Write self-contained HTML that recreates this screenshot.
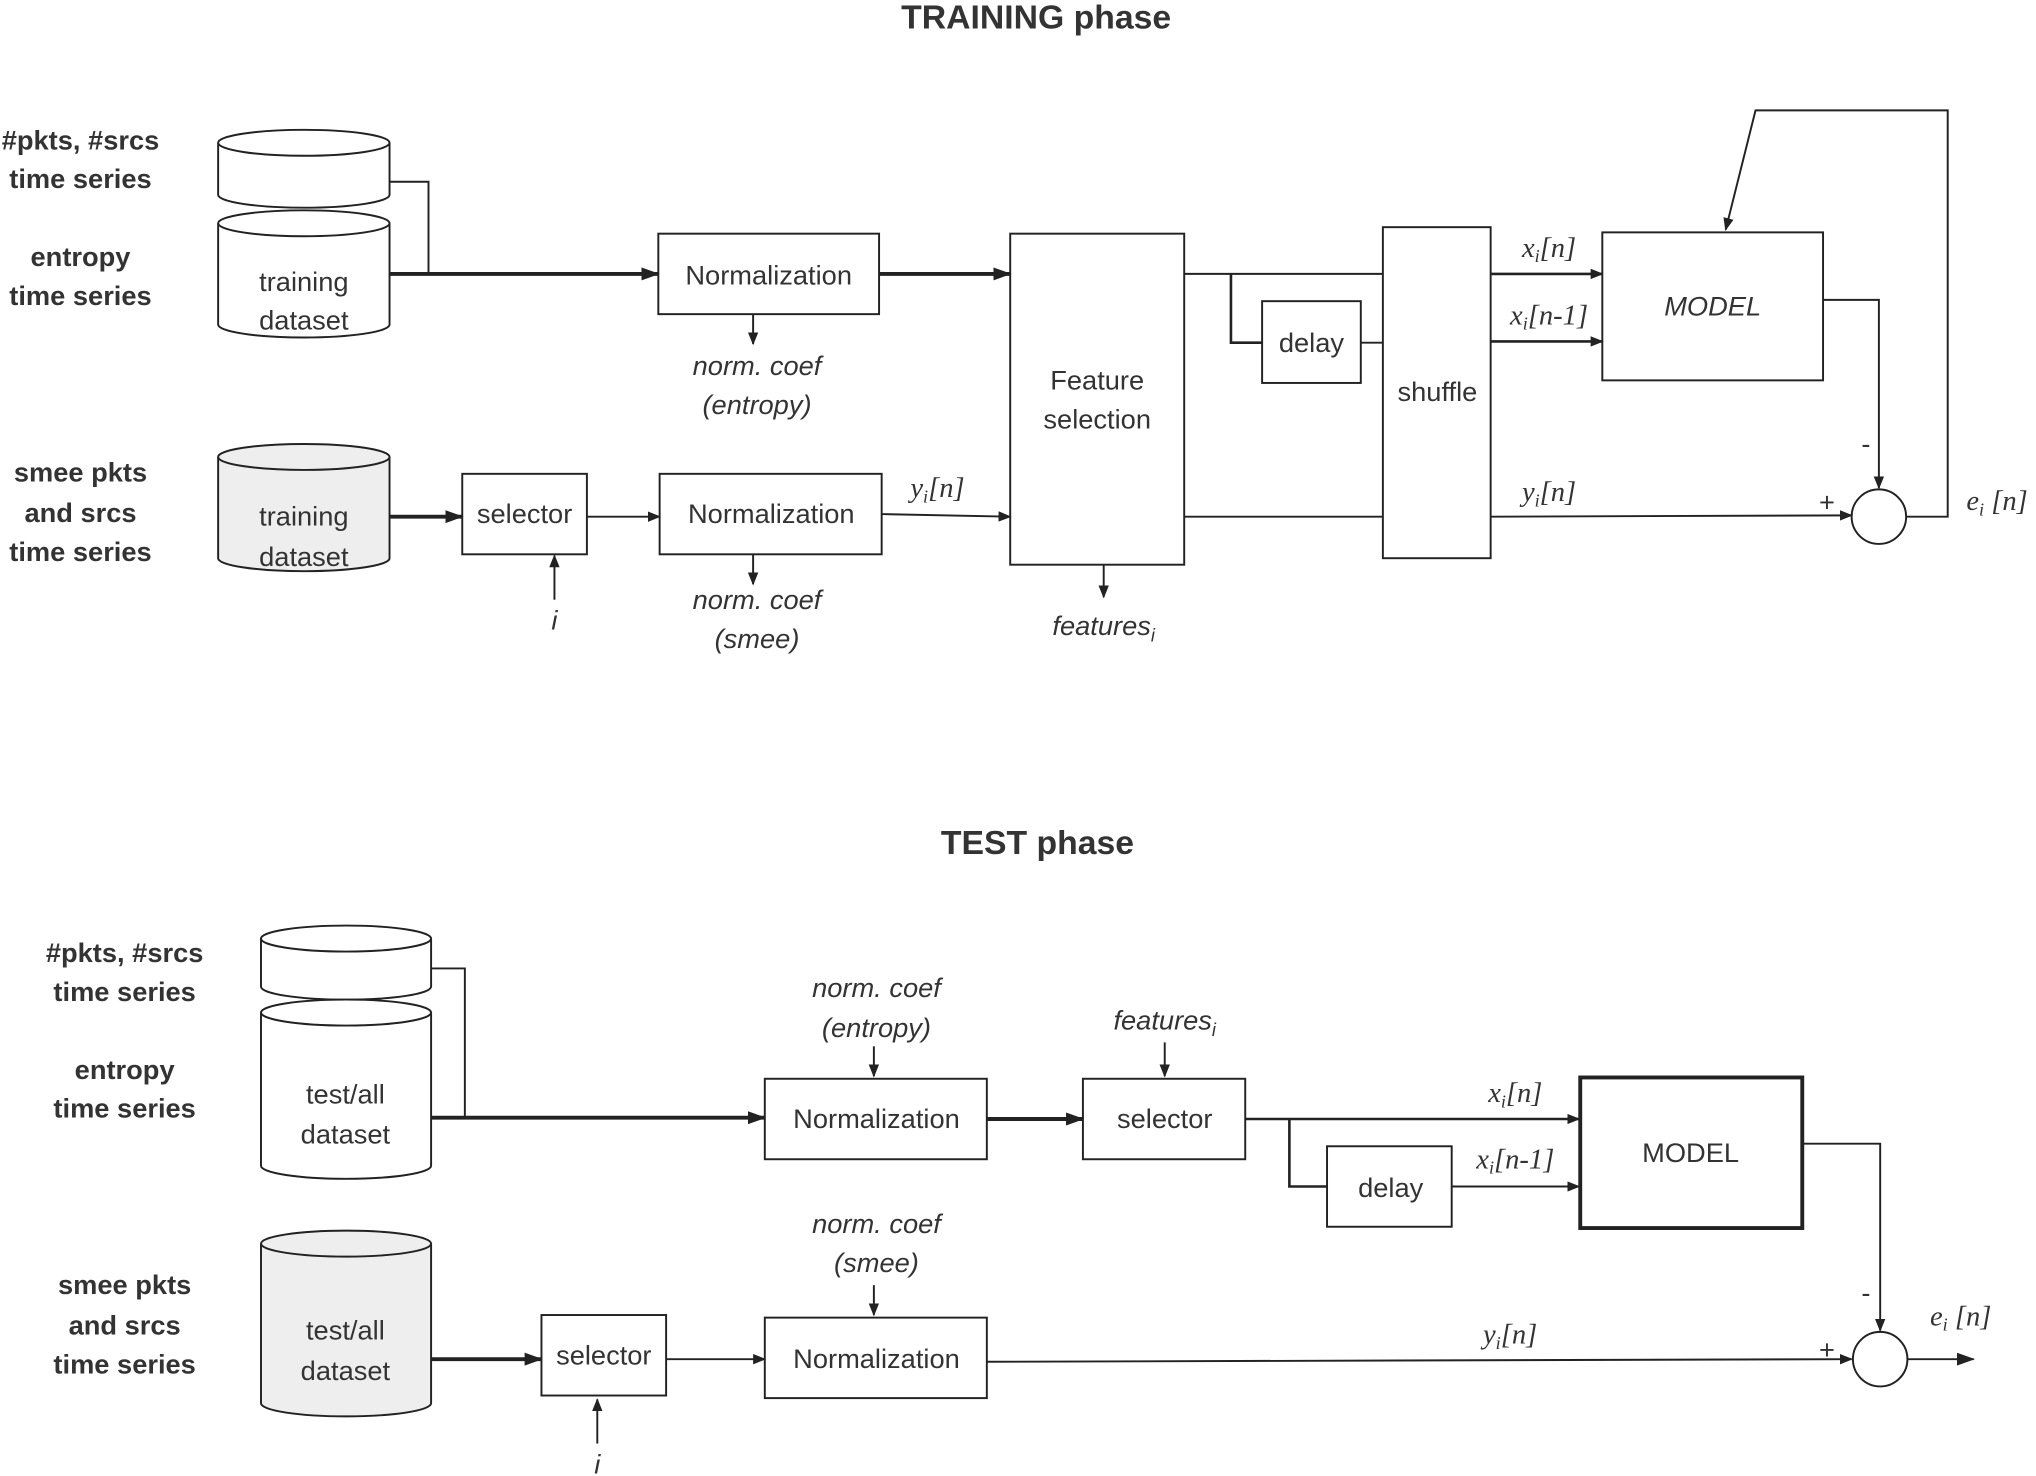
<!DOCTYPE html>
<html><head><meta charset="utf-8"><style>
html,body{margin:0;padding:0;background:#fff;}
svg{display:block;}
text{font-family:"Liberation Sans",sans-serif;fill:#333;}
.t{font-size:21px;text-anchor:middle;}
.b{font-size:21px;font-weight:bold;text-anchor:middle;}
.i{font-size:21px;font-style:italic;text-anchor:middle;}
.v{font-family:"Liberation Serif",serif;font-size:22px;font-style:italic;text-anchor:middle;}
.s{font-size:14px;}
</style></head><body>
<svg width="2036" height="1476" viewBox="0 0 1568 1137" preserveAspectRatio="none" xmlns="http://www.w3.org/2000/svg">
<defs>
<marker id="a" markerWidth="10" markerHeight="8" refX="9" refY="4" orient="auto" markerUnits="userSpaceOnUse"><path d="M0,0 L10,4 L0,8z" fill="#222"/></marker>
<marker id="A" markerWidth="14" markerHeight="10" refX="13" refY="5" orient="auto" markerUnits="userSpaceOnUse"><path d="M0,0 L14,5 L0,10z" fill="#222"/></marker>
</defs>
<g stroke="#222" fill="none" stroke-width="1.5">
<path d="M168,110 V150 A66,10 0 0 0 300,150 V110" fill="#fff"/><ellipse cx="234" cy="110" rx="66" ry="10" fill="#fff"/>
<path d="M168,172 V250 A66,10 0 0 0 300,250 V172" fill="#fff"/><ellipse cx="234" cy="172" rx="66" ry="10" fill="#fff"/>
<path d="M168,352 V430 A66,10 0 0 0 300,430 V352" fill="#eee"/><ellipse cx="234" cy="352" rx="66" ry="10" fill="#eee"/>
<polyline points="300,140 330,140 330,211"/>
<line x1="300" y1="211" x2="507" y2="211" stroke-width="3" marker-end="url(#A)"/>
<rect x="507" y="180" width="170" height="62"/>
<line x1="580" y1="242" x2="580" y2="265" marker-end="url(#a)"/>
<line x1="677" y1="211" x2="778" y2="211" stroke-width="3" marker-end="url(#A)"/>
<rect x="778" y="180" width="134" height="255"/>
<line x1="850" y1="435" x2="850" y2="460" marker-end="url(#a)"/>
<line x1="300" y1="398" x2="356" y2="398" stroke-width="3" marker-end="url(#A)"/>
<rect x="356" y="365" width="96" height="62"/>
<line x1="427" y1="462" x2="427" y2="428" marker-end="url(#a)"/>
<line x1="452" y1="398" x2="508" y2="398" marker-end="url(#a)"/>
<rect x="508" y="365" width="171" height="62"/>
<line x1="580" y1="427" x2="580" y2="450" marker-end="url(#a)"/>
<line x1="679" y1="396" x2="778" y2="398" marker-end="url(#a)"/>
<line x1="912" y1="211" x2="1065" y2="211"/>
<polyline points="948,211 948,264 972,264" stroke-width="2"/>
<rect x="972" y="232" width="76" height="63"/>
<line x1="1048" y1="264" x2="1065" y2="264"/>
<rect x="1065" y="175" width="83" height="255"/>
<line x1="912" y1="398" x2="1065" y2="398"/>
<line x1="1148" y1="211" x2="1234" y2="211" stroke-width="2" marker-end="url(#a)"/>
<line x1="1148" y1="263" x2="1234" y2="263" stroke-width="2" marker-end="url(#a)"/>
<rect x="1234" y="179" width="170" height="114"/>
<polyline points="1404,231 1447,231 1447,376" marker-end="url(#a)"/>
<circle cx="1447" cy="398" r="21"/>
<line x1="1148" y1="398" x2="1426" y2="397" marker-end="url(#a)"/>
<polyline points="1468,398 1500,398 1500,85 1352,85 1329,177" marker-end="url(#a)"/>
<path d="M201,723 V760 A65,10 0 0 0 332,760 V723" fill="#fff"/><ellipse cx="266.5" cy="723" rx="65.5" ry="10" fill="#fff"/>
<path d="M201,780 V898 A65,10 0 0 0 332,898 V780" fill="#fff"/><ellipse cx="266.5" cy="780" rx="65.5" ry="10" fill="#fff"/>
<path d="M201,958 V1081 A65,10 0 0 0 332,1081 V958" fill="#eee"/><ellipse cx="266.5" cy="958" rx="65.5" ry="10" fill="#eee"/>
<polyline points="332,746 358,746 358,861"/>
<line x1="332" y1="861" x2="589" y2="861" stroke-width="3" marker-end="url(#A)"/>
<rect x="589" y="831" width="171" height="62"/>
<line x1="673" y1="806" x2="673" y2="829" marker-end="url(#a)"/>
<line x1="760" y1="862" x2="834" y2="862" stroke-width="3" marker-end="url(#A)"/>
<rect x="834" y="831" width="125" height="62"/>
<line x1="897" y1="803" x2="897" y2="829" marker-end="url(#a)"/>
<line x1="959" y1="862" x2="1216" y2="862" stroke-width="2" marker-end="url(#a)"/>
<polyline points="993,862 993,914 1022,914" stroke-width="2"/>
<rect x="1022" y="883" width="96" height="62"/>
<line x1="1118" y1="914" x2="1216" y2="914" marker-end="url(#a)"/>
<rect x="1217" y="830" width="171" height="116" stroke-width="3"/>
<polyline points="1388,881 1448,881 1448,1025" marker-end="url(#a)"/>
<circle cx="1448" cy="1047" r="21"/>
<line x1="1469" y1="1047" x2="1520" y2="1047" marker-end="url(#A)"/>
<line x1="332" y1="1047" x2="417" y2="1047" stroke-width="3" marker-end="url(#A)"/>
<rect x="417" y="1013" width="96" height="62"/>
<line x1="460" y1="1112" x2="460" y2="1078" marker-end="url(#a)"/>
<line x1="513" y1="1047" x2="589" y2="1047" marker-end="url(#a)"/>
<rect x="589" y="1015" width="171" height="62"/>
<line x1="673" y1="990" x2="673" y2="1013" marker-end="url(#a)"/>
<line x1="760" y1="1049" x2="1426" y2="1047" marker-end="url(#a)"/>
</g>
<text class="b" x="798" y="22" style="font-size:26px">TRAINING phase</text>
<text class="b" x="62" y="115">#pkts, #srcs</text><text class="b" x="62" y="145">time series</text>
<text class="b" x="62" y="205">entropy</text><text class="b" x="62" y="235">time series</text>
<text class="b" x="62" y="371">smee pkts</text><text class="b" x="62" y="402">and srcs</text><text class="b" x="62" y="432">time series</text>
<text class="t" x="234" y="224">training</text><text class="t" x="234" y="254">dataset</text>
<text class="t" x="234" y="405">training</text><text class="t" x="234" y="436">dataset</text>
<text class="t" x="592" y="219">Normalization</text>
<text class="i" x="583" y="289">norm. coef</text><text class="i" x="583" y="319">(entropy)</text>
<text class="t" x="404" y="403">selector</text>
<text class="i" x="427" y="485">i</text>
<text class="t" x="594" y="403">Normalization</text>
<text class="i" x="583" y="469">norm. coef</text><text class="i" x="583" y="499">(smee)</text>
<text class="v" x="722" y="383">y<tspan class="s" dy="4">i</tspan><tspan dy="-4">[n]</tspan></text>
<text class="t" x="845" y="300">Feature</text><text class="t" x="845" y="330">selection</text>
<text class="i" x="850" y="489">features<tspan class="s" dy="5">i</tspan></text>
<text class="t" x="1010" y="271">delay</text>
<text class="t" x="1107" y="309">shuffle</text>
<text class="v" x="1193" y="198">x<tspan class="s" dy="4">i</tspan><tspan dy="-4">[n]</tspan></text>
<text class="v" x="1193" y="250">x<tspan class="s" dy="4">i</tspan><tspan dy="-4">[n-1]</tspan></text>
<text class="i" x="1319" y="243">MODEL</text>
<text class="t" x="1437" y="349">-</text>
<text class="t" x="1407" y="394">+</text>
<text class="v" x="1193" y="386">y<tspan class="s" dy="4">i</tspan><tspan dy="-4">[n]</tspan></text>
<text class="v" x="1538" y="393">e<tspan class="s" dy="4">i</tspan><tspan dy="-4"> [n]</tspan></text>
<text class="b" x="799" y="658" style="font-size:26px">TEST phase</text>
<text class="b" x="96" y="741">#pkts, #srcs</text><text class="b" x="96" y="771">time series</text>
<text class="b" x="96" y="831">entropy</text><text class="b" x="96" y="861">time series</text>
<text class="b" x="96" y="997">smee pkts</text><text class="b" x="96" y="1028">and srcs</text><text class="b" x="96" y="1058">time series</text>
<text class="t" x="266" y="850">test/all</text><text class="t" x="266" y="881">dataset</text>
<text class="t" x="266" y="1032">test/all</text><text class="t" x="266" y="1063">dataset</text>
<text class="i" x="675" y="768">norm. coef</text><text class="i" x="675" y="799">(entropy)</text>
<text class="t" x="675" y="869">Normalization</text>
<text class="i" x="897" y="793">features<tspan class="s" dy="5">i</tspan></text>
<text class="t" x="897" y="869">selector</text>
<text class="t" x="1071" y="922">delay</text>
<text class="v" x="1167" y="849">x<tspan class="s" dy="4">i</tspan><tspan dy="-4">[n]</tspan></text>
<text class="v" x="1167" y="900">x<tspan class="s" dy="4">i</tspan><tspan dy="-4">[n-1]</tspan></text>
<text class="t" x="1302" y="895">MODEL</text>
<text class="t" x="1437" y="1003">-</text>
<text class="t" x="1407" y="1047">+</text>
<text class="v" x="1510" y="1021">e<tspan class="s" dy="4">i</tspan><tspan dy="-4"> [n]</tspan></text>
<text class="i" x="675" y="950">norm. coef</text><text class="i" x="675" y="980">(smee)</text>
<text class="t" x="675" y="1054">Normalization</text>
<text class="t" x="465" y="1051">selector</text>
<text class="i" x="460" y="1135">i</text>
<text class="v" x="1163" y="1035">y<tspan class="s" dy="4">i</tspan><tspan dy="-4">[n]</tspan></text>
</svg>
</body></html>
